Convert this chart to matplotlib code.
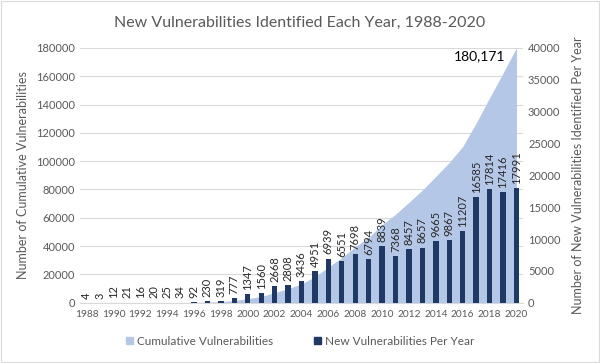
from matplotlib import pyplot as plt
import matplotlib.patches as mpatches
import numpy as np

plt.rcParams['font.family'] = ['Lato', 'DejaVu Sans']

# Data
years = list(range(1988, 2021))
new_per_year = [4, 3, 12, 21, 16, 20, 25, 34, 92, 230, 319, 777, 1347, 1560,
                2668, 2808, 3436, 4951, 6939, 6551, 7698, 6794, 8839, 7368,
                8457, 8657, 9665, 9867, 11207, 16585, 17814, 17416, 17991]
cumulative = np.cumsum(new_per_year)

area_color = '#b4c7e7'
bar_color = '#203864'
text_color = '#595959'
grid_color = '#d9d9d9'

fig = plt.figure(figsize=[6, 3.63], dpi=100)
ax = fig.add_axes([0.133, 0.166, 0.739, 0.702])
ax2 = ax.twinx()

# Cumulative area on left axis
ax.fill_between(years, 0, cumulative, color=area_color, linewidth=0, zorder=1)
ax.set_ylim(0, 180000)
ax.set_yticks(range(0, 180001, 20000))
ax.set_xlim(1987.5, 2020.5)
ax.set_xticks(range(1988, 2021, 2))
ax.grid(axis='y', color=grid_color, linewidth=0.8, zorder=0)
ax.set_axisbelow(True)

ax.annotate('{:,}'.format(int(cumulative[-1])), xy=(years[-1], cumulative[-1]),
            xytext=(-8, -6), textcoords='offset points', ha='right', va='center',
            fontsize=10, color='black')

# New per year bars on right axis
bars = ax2.bar(years, new_per_year, width=0.4, color=bar_color, zorder=3)
ax2.set_ylim(0, 40000)
ax2.set_yticks(range(0, 40001, 5000))
for x, v in zip(years, new_per_year):
    ax2.annotate(str(v), xy=(x, v), xytext=(0, 3), textcoords='offset points',
                 rotation=90, ha='center', va='bottom', fontsize=8,
                 color='#262626')

for a in (ax, ax2):
    for s in a.spines.values():
        s.set_visible(False)
    a.tick_params(length=0, colors=text_color, labelsize=8)
ax.tick_params(axis='x', labelsize=7.3, pad=5)
ax.spines['bottom'].set_visible(True)
ax.spines['bottom'].set_color(grid_color)

ax.set_ylabel('Number of Cumulative Vulnerabilities', fontsize=9,
              color=text_color, labelpad=5)
ax2.set_ylabel('Number of New Vulnerabilities Identified Per Year', fontsize=9,
               color=text_color, labelpad=8)

fig.text(0.5, 0.938, 'New Vulnerabilities Identified Each Year, 1988-2020',
         ha='center', va='center', fontsize=11.5, color=text_color)

handles = [mpatches.Patch(color=area_color, label='Cumulative Vulnerabilities'),
           mpatches.Patch(color=bar_color, label='New Vulnerabilities Per Year')]
fig.legend(handles=handles, loc='center', bbox_to_anchor=(0.5, 0.06), ncol=2,
           frameon=False, fontsize=8.5, handlelength=0.6, handleheight=0.6,
           columnspacing=3.5, handletextpad=0.3, labelcolor=text_color)

fig.patches.append(mpatches.Rectangle((0.002, 0.004), 0.996, 0.992,
                                      transform=fig.transFigure, fill=False,
                                      edgecolor=grid_color, linewidth=0.8))

plt.savefig('out.png', dpi=100)
